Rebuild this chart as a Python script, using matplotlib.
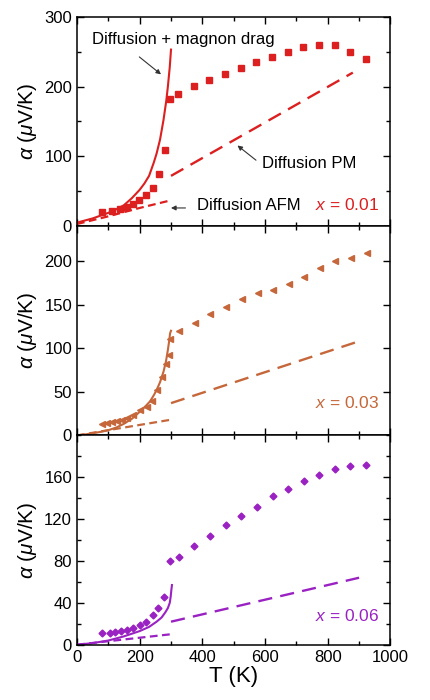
import numpy as np
import matplotlib
matplotlib.use('Agg')
import matplotlib.pyplot as plt
from matplotlib.ticker import MultipleLocator, FixedLocator

plt.rcParams['font.family'] = ['Liberation Sans', 'DejaVu Sans']
plt.rcParams['mathtext.fontset'] = 'custom'
plt.rcParams['mathtext.rm'] = 'Liberation Sans'
plt.rcParams['mathtext.it'] = 'Liberation Sans:italic'

# x = 0.01 (red squares)
T1 = [79, 111, 137, 159, 180, 199, 219, 241, 261, 280, 297, 322, 372, 422, 472,
      523, 572, 623, 672, 722, 772, 822, 872, 922]
a1 = [20.5, 22, 25, 28, 32, 37, 44, 55, 75, 109, 182, 189, 201, 210, 218,
      226, 235, 243, 250, 257, 260, 259, 250, 240]
T1_drag = [0, 25, 50, 75, 100, 125, 150, 175, 200, 215, 230, 245, 254, 265, 276, 285, 290, 296, 300]
a1_drag = [5, 8, 11, 15, 19, 24, 30, 40, 52, 61, 72, 91, 104, 124, 152, 180, 200, 228, 253]
T1_afm = [0, 100, 200, 300]
a1_afm = [3, 14, 26, 37]
T1_pm = [300, 880]
a1_pm = [72, 220]

# x = 0.03 (brown triangles)
T2 = [79, 95, 111, 127, 143, 159, 180, 201, 223, 239, 255, 271, 283, 292, 297,
      324, 375, 425, 475, 526, 576, 625, 675, 725, 774, 824, 874, 925]
a2 = [13.4, 14, 15, 16.5, 18, 20, 23, 29, 33, 40, 52, 67, 82, 92, 111,
      120, 129, 139, 147, 156, 163, 167, 174, 182, 192, 200, 203, 209]
T2_drag = [0, 25, 50, 75, 100, 125, 148, 175, 200, 220, 233, 245, 254, 265, 276, 284, 290, 294, 297, 300]
a2_drag = [0, 1, 2.5, 4, 6, 9, 13, 19, 27, 34, 39, 46, 52, 61, 73, 85, 98, 108, 117, 120]
T2_afm = [0, 300]
a2_afm = [0, 18]
T2_pm = [300, 900]
a2_pm = [37, 108]

# x = 0.06 (purple diamonds)
T3 = [79, 105, 121, 140, 159, 180, 201, 219, 241, 260, 279, 297, 324, 374, 425,
      475, 524, 574, 625, 673, 723, 773, 822, 872, 922]
a3 = [11, 11, 12, 13, 14, 16, 19, 22, 28, 35, 46, 80, 84, 94, 104,
      114, 123, 132, 142, 149, 156, 162, 168, 171, 172]
T3_drag = [0, 50, 100, 150, 200, 230, 254, 270, 282, 290, 296, 299, 301, 303]
a3_drag = [0, 1.5, 4, 8, 13, 17, 22, 26, 31, 35, 40, 46, 52, 57]
T3_afm = [0, 300]
a3_afm = [0, 10]
T3_pm = [300, 900]
a3_pm = [22, 64]

red = '#dc1f1f'
brown = '#c5673a'
purple = '#9a22c2'

fig, axes = plt.subplots(3, 1, figsize=(4.3, 7), dpi=100, sharex=True)
fig.subplots_adjust(left=0.179, right=0.908, top=0.976, bottom=0.079, hspace=0)

long_dash = (0, (6, 3.5))
short_dash = (0, (3.5, 2))

panels = [
    (axes[0], T1, a1, T1_drag, a1_drag, T1_afm, a1_afm, T1_pm, a1_pm, red, 's', 5,
     300, [0, 100, 200, 300], 50, '0.01', 30),
    (axes[1], T2, a2, T2_drag, a2_drag, T2_afm, a2_afm, T2_pm, a2_pm, brown, '<', 4.5,
     240, [0, 50, 100, 150, 200], None, '0.03', 37),
    (axes[2], T3, a3, T3_drag, a3_drag, T3_afm, a3_afm, T3_pm, a3_pm, purple, 'D', 3.5,
     200, [0, 40, 80, 120, 160], 20, '0.06', 27),
]

for ax, T, a, Td, ad, Ta, aa, Tp, ap, c, m, ms, ymax, yt, mnr, lab, ylab in panels:
    ax.plot(T, a, linestyle='none', marker=m, ms=ms, color=c, mec=c)
    ax.plot(Td, ad, color=c, lw=1.5)
    ax.plot(Ta, aa, color=c, lw=1.6, linestyle=short_dash)
    ax.plot(Tp, ap, color=c, lw=1.7, linestyle=long_dash)
    ax.set_xlim(0, 1000)
    ax.set_ylim(0, ymax)
    ax.yaxis.set_major_locator(FixedLocator(yt))
    if mnr:
        ax.yaxis.set_minor_locator(MultipleLocator(mnr))
    ax.xaxis.set_major_locator(MultipleLocator(200))
    ax.xaxis.set_minor_locator(MultipleLocator(100))
    ax.tick_params(which='both', direction='in', top=True, right=True, labelsize=12)
    ax.tick_params(which='major', length=5, width=1)
    ax.tick_params(which='minor', length=3, width=1)
    for s in ax.spines.values():
        s.set_linewidth(1.1)
    ax.set_ylabel(r'$\alpha$ ($\mu$V/K)', fontsize=15, labelpad=4)
    ax.text(965, ylab, r'$x$ = ' + lab, color=c, fontsize=12.5, ha='right', va='center')

axes[2].set_xlabel('T (K)', fontsize=16, labelpad=1)

ax = axes[0]
arrow = dict(arrowstyle='-|>', color='#333333', lw=0.8, mutation_scale=7)
ax.text(48, 267, 'Diffusion + magnon drag', fontsize=12, va='center', ha='left')
ax.annotate('', xy=(275, 215), xytext=(192, 245), arrowprops=arrow)
ax.text(591, 90, 'Diffusion PM', fontsize=12, va='center', ha='left')
ax.annotate('', xy=(505, 118), xytext=(578, 92), arrowprops=arrow)
ax.text(383, 30, 'Diffusion AFM', fontsize=12, va='center', ha='left')
ax.annotate('', xy=(291, 26), xytext=(355, 26), arrowprops=arrow)

fig.savefig('out.png', dpi=100)
